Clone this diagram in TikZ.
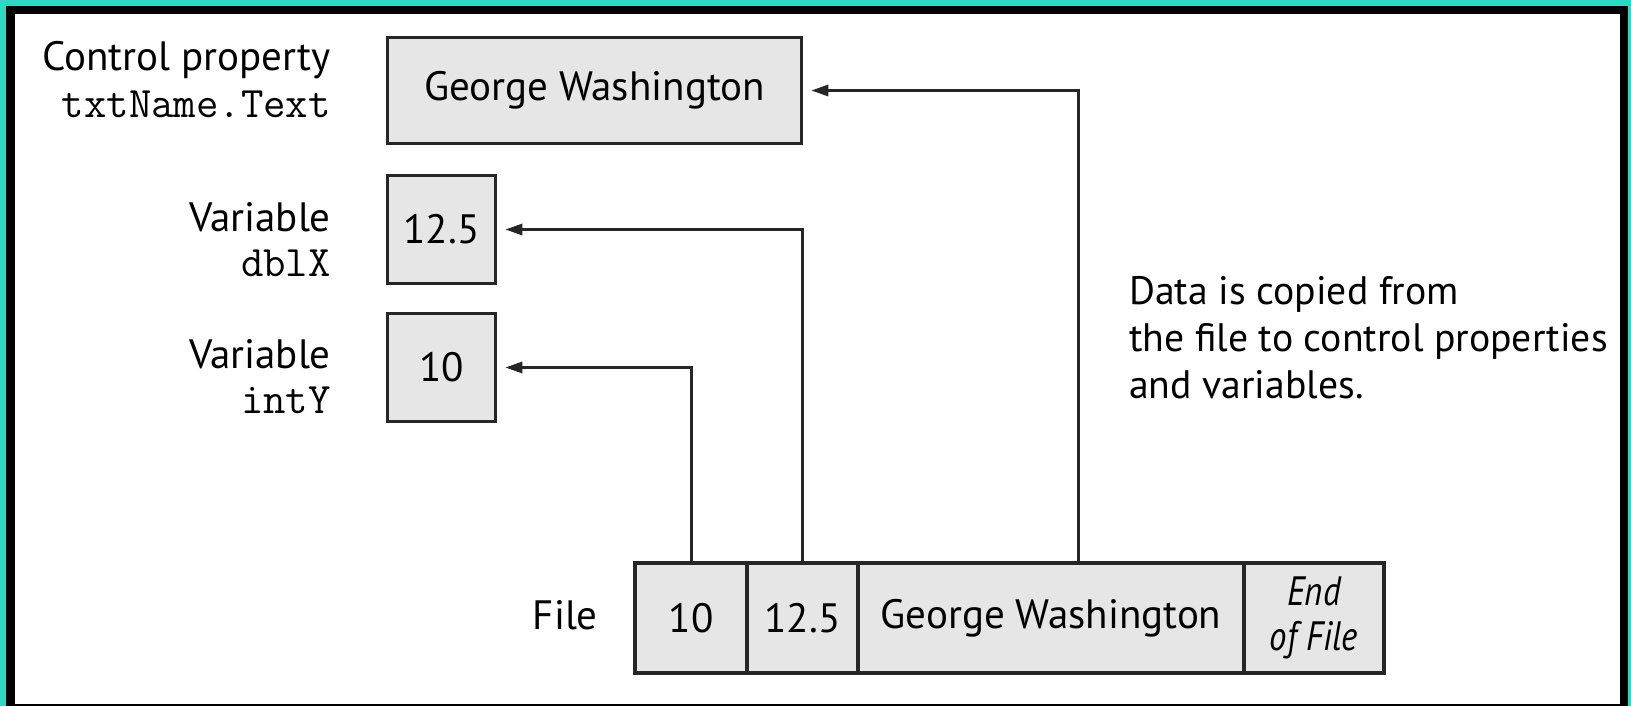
\documentclass[tikz,border=0pt]{standalone}
\usepackage{fontspec}
\setmainfont{PT Sans}
\usetikzlibrary{arrows.meta}
\definecolor{teal1}{HTML}{2DD9C4}
\definecolor{boxgray}{HTML}{E6E6E6}
\tikzset{
  cell/.style={draw=black!85, line width=3.5pt, fill=boxgray, inner sep=0pt, font=\fontsize{41}{46}\selectfont},
  lbl/.style={inner sep=0pt, font=\fontsize{41}{46}\selectfont},
  note/.style={inner sep=0pt, font=\fontsize{39.7}{46}\selectfont},
  mono/.style={inner sep=0pt, font=\fontsize{43.5}{46}\ttfamily},
  arr/.style={draw=black!85, line width=3pt, -{Triangle[length=17pt,width=11pt]}, shorten >=8pt}
}
\begin{document}
\begin{tikzpicture}[x=1pt,y=-1pt]
\useasboundingbox (0,0) rectangle (1631,706);
\fill[teal1] (0,0) rectangle (1631,706);
\fill[black] (6,6) rectangle (1628,706);
\fill[white] (15,14) rectangle (1620,704);

% top boxes
\node[cell, minimum width=414pt, minimum height=106pt] (gw) at (594.5,90.5) {George Washington};
\node[cell, minimum width=108pt, minimum height=108pt] (dbl) at (441.5,229.5) {12.5};
\node[cell, minimum width=108pt, minimum height=108pt] (int) at (441.5,367.5) {10};

% file cells
\node[cell, minimum width=112pt, minimum height=110pt] (f1) at (691,618) {10};
\node[cell, minimum width=111pt, minimum height=110pt] (f2) at (802.5,618) {12.5};
\node[cell, minimum width=386pt, minimum height=110pt] (f3) at (1051,618) {George Washington};
\node[cell, minimum width=140pt, minimum height=110pt, align=center] (f4) at (1314,618)
  {\itshape\fontsize{41}{44}\selectfont\scalebox{0.85}[1]{End}\\[-1pt]\itshape\fontsize{41}{44}\selectfont\scalebox{0.85}[1]{of File}};

% labels
\node[lbl, anchor=base east] (l1) at (331,71) {Control property};
\node[mono, anchor=base east] (l2) at (331,118) {txtName.Text};
\node[lbl, anchor=base east] (l3) at (331,231) {Variable};
\node[mono, anchor=base east] (l4) at (331,276) {dblX};
\node[lbl, anchor=base east] (l5) at (331,368) {Variable};
\node[mono, anchor=base east] (l6) at (331,413) {intY};
\node[lbl, anchor=base east] (l7) at (598,629) {File};

\node[note, anchor=base west] (d1) at (1129,304) {Data is copied from};
\node[note, anchor=base west] (d2) at (1129,351) {the file to control properties};
\node[note, anchor=base west] (d3) at (1129,398) {and variables.};

% arrows
\draw[arr] (f1.north) |- (int.east);
\draw[arr] (f2.north) |- (dbl.east);
\draw[arr] ([xshift=27pt]f3.north) |- (gw.east);
\end{tikzpicture}
\end{document}
